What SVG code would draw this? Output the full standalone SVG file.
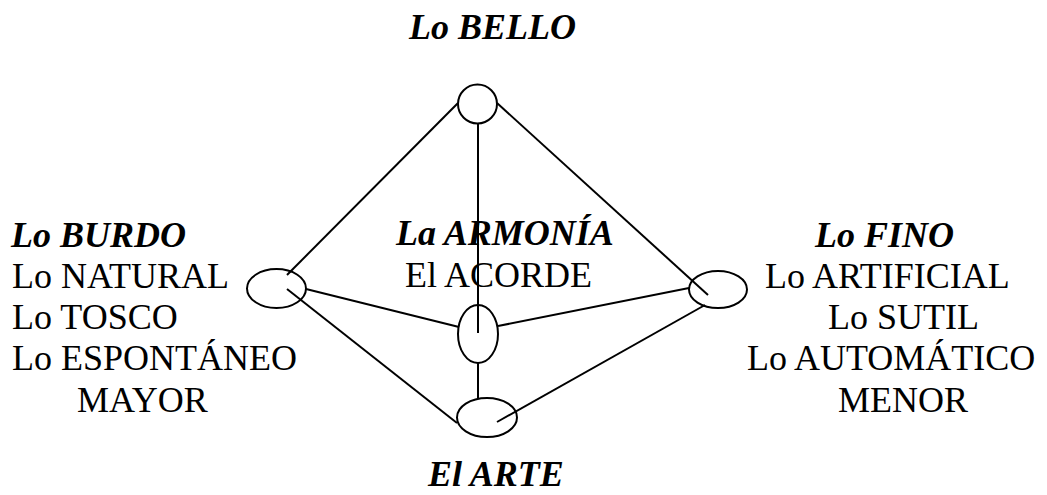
<svg xmlns="http://www.w3.org/2000/svg" width="1047" height="495" viewBox="0 0 1047 495">
<style>
text{font-family:"Liberation Serif","Times New Roman",serif;font-size:36px;fill:#000}
.h{font-weight:bold;font-style:italic}
.n{fill:none;stroke:#000;stroke-width:2}
line{stroke:#000;stroke-width:2}
</style>
<rect width="1047" height="495" fill="#fff"/>
<g id="connectors">
<line x1="458" y1="103" x2="287" y2="275"/>
<line x1="497" y1="103" x2="708" y2="295"/>
<line x1="478" y1="123" x2="478" y2="333"/>
<line x1="306" y1="289" x2="459" y2="327"/>
<line x1="287" y1="289" x2="457" y2="423"/>
<line x1="498" y1="326" x2="689" y2="288"/>
<line x1="478" y1="363" x2="478" y2="398"/>
<line x1="497" y1="422" x2="705" y2="305"/>
</g>
<g id="node-top"><circle class="n" cx="477.5" cy="104" r="19.5"/></g>
<g id="node-left"><ellipse class="n" cx="276.5" cy="288.5" rx="29.5" ry="19.5"/></g>
<g id="node-center"><ellipse class="n" cx="478" cy="334" rx="20" ry="29"/></g>
<g id="node-right"><ellipse class="n" cx="718" cy="289.5" rx="29" ry="18.5"/></g>
<g id="node-bottom"><ellipse class="n" cx="487" cy="417.5" rx="30" ry="19.5"/></g>
<g id="label-bello"><text class="h" x="409" y="39">Lo BELLO</text></g>
<g id="label-burdo">
<text class="h" x="11" y="247">Lo BURDO</text>
<text x="12" y="288">Lo NATURAL</text>
<text x="12" y="329">Lo TOSCO</text>
<text x="12" y="370">Lo ESPONTÁNEO</text>
<text x="77" y="412">MAYOR</text>
</g>
<g id="label-armonia">
<text class="h" x="396" y="245">La ARMONÍA</text>
<text x="405" y="287">El ACORDE</text>
</g>
<g id="label-fino">
<text class="h" x="815" y="247">Lo FINO</text>
<text x="765" y="288">Lo ARTIFICIAL</text>
<text x="828" y="329">Lo SUTIL</text>
<text x="747" y="370">Lo AUTOMÁTICO</text>
<text x="838" y="412">MENOR</text>
</g>
<g id="label-arte"><text class="h" x="428" y="486">El ARTE</text></g>
</svg>
